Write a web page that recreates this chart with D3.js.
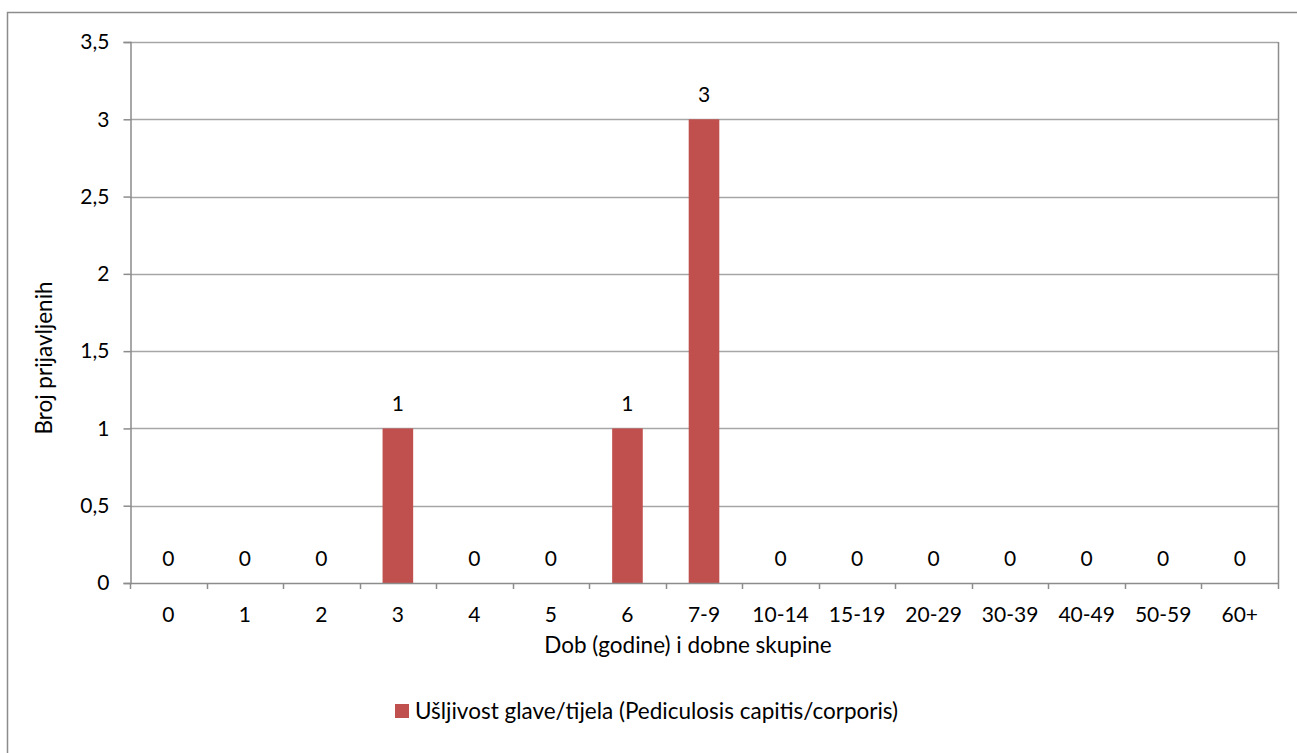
<!DOCTYPE html>
<html>
<head>
<meta charset="utf-8">
<script src="https://cdn.jsdelivr.net/npm/d3@7"></script>
<style>
  html, body { margin: 0; padding: 0; background: #ffffff; overflow: hidden; }
  svg { display: block; }
  text { font-family: Lato, "Open Sans", sans-serif; fill: #000; }
</style>
</head>
<body>
<svg id="chart" width="1297" height="753"></svg>
<script>
const categories = ["0","1","2","3","4","5","6","7-9","10-14","15-19","20-29","30-39","40-49","50-59","60+"];
const values = [0,0,0,1,0,0,1,3,0,0,0,0,0,0,0];
const yTicks = [0,0.5,1,1.5,2,2.5,3,3.5];
const seriesName = "Ušljivost glave/tijela (Pediculosis capitis/corporis)";
const xTitle = "Dob (godine) i dobne skupine";
const yTitle = "Broj prijavljenih";

const W = 1297, H = 753;
const m = { left: 130, right: 1278, top: 42, bottom: 583 };
const barColor = "#C0504D";
const gridColor = "#A6A6A6";
const axisColor = "#8C8C8C";
const fsNum = 21;
const fsText = 22.5;

const svg = d3.select("#chart");

// outer chart border
svg.append("rect")
  .attr("x", 7.5).attr("y", 12.5)
  .attr("width", W + 20).attr("height", H + 20)
  .attr("fill", "#fff").attr("stroke", axisColor).attr("stroke-width", 1.5);

const x = d3.scaleBand().domain(categories).range([m.left, m.right]).paddingInner(0.6).paddingOuter(0.3);
const y = d3.scaleLinear().domain([0, 3.5]).range([m.bottom, m.top]);

// gridlines
svg.append("g").selectAll("line").data(yTicks.filter(d => d > 0)).join("line")
  .attr("x1", m.left).attr("x2", m.right)
  .attr("y1", d => Math.round(y(d)) + 0.5).attr("y2", d => Math.round(y(d)) + 0.5)
  .attr("stroke", gridColor).attr("stroke-width", 1.5);

// right plot border
svg.append("line")
  .attr("x1", m.right + 0.5).attr("x2", m.right + 0.5)
  .attr("y1", m.top).attr("y2", m.bottom)
  .attr("stroke", axisColor).attr("stroke-width", 1.5);

// bars
svg.append("g").selectAll("rect").data(values).join("rect")
  .attr("x", (d, i) => x(categories[i]))
  .attr("width", x.bandwidth())
  .attr("y", d => y(d))
  .attr("height", d => y(0) - y(d))
  .attr("fill", barColor);

// y axis
const yAxis = d3.axisLeft(y).tickValues(yTicks).tickSize(7).tickPadding(14)
  .tickFormat(d => d3.format("")(d).replace(".", ","));
const gy = svg.append("g").attr("transform", `translate(${m.left + 0.5},0)`).call(yAxis);
gy.select(".domain").attr("stroke", axisColor).attr("stroke-width", 1.5);
gy.selectAll(".tick line").attr("stroke", axisColor).attr("stroke-width", 1.5);
gy.selectAll(".tick text").style("font-family", "Lato, sans-serif").style("font-size", fsNum + "px").attr("fill", "#000");

// x axis line and boundary ticks
const step = x.step();
const boundaries = categories.map((c, i) => m.left + i * step).concat([m.right]);
svg.append("line")
  .attr("x1", m.left).attr("x2", m.right)
  .attr("y1", m.bottom + 0.5).attr("y2", m.bottom + 0.5)
  .attr("stroke", axisColor).attr("stroke-width", 1.5);
svg.append("g").selectAll("line").data(boundaries).join("line")
  .attr("x1", d => Math.round(d) + 0.5).attr("x2", d => Math.round(d) + 0.5)
  .attr("y1", m.bottom).attr("y2", m.bottom + 6)
  .attr("stroke", axisColor).attr("stroke-width", 1.5);

// x tick labels
svg.append("g").selectAll("text").data(categories).join("text")
  .attr("x", d => x(d) + x.bandwidth() / 2)
  .attr("y", 622)
  .attr("text-anchor", "middle")
  .style("font-size", fsNum + "px")
  .text(d => d);

// data labels
svg.append("g").selectAll("text").data(values).join("text")
  .attr("x", (d, i) => x(categories[i]) + x.bandwidth() / 2)
  .attr("y", d => y(d) - 17)
  .attr("text-anchor", "middle")
  .style("font-size", fsNum + "px")
  .text(d => d);

// axis titles
svg.append("text")
  .attr("x", 688).attr("y", 653)
  .attr("text-anchor", "middle")
  .style("font-size", fsText + "px")
  .text(xTitle);

svg.append("text")
  .attr("transform", "translate(52,358) rotate(-90)")
  .attr("text-anchor", "middle")
  .style("font-size", fsText + "px")
  .text(yTitle);

// legend
svg.append("rect")
  .attr("x", 395).attr("y", 704).attr("width", 14).attr("height", 14)
  .attr("fill", barColor);
svg.append("text")
  .attr("x", 415).attr("y", 719)
  .style("font-size", fsText + "px")
  .text(seriesName);
</script>
</body>
</html>
